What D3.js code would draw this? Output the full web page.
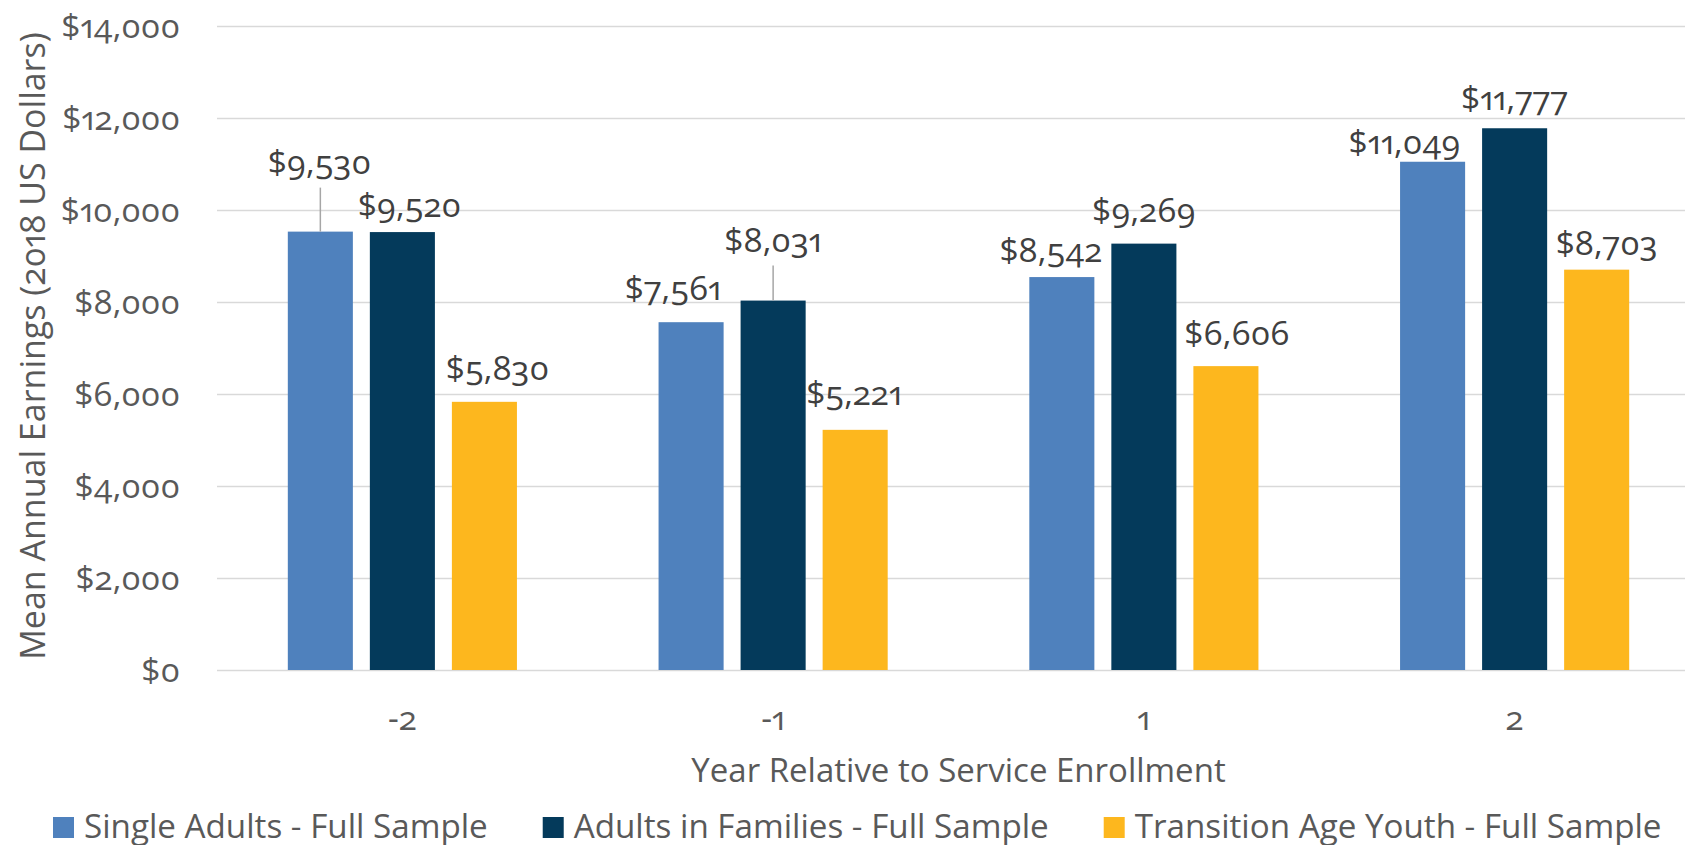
<!DOCTYPE html>
<html>
<head>
<meta charset="utf-8">
<script src="https://cdn.jsdelivr.net/npm/d3@7"></script>
<style>
  body { margin: 0; background: #fff; }
  svg text {
    font-family: "Open Sans", sans-serif;
    font-variant-numeric: oldstyle-nums proportional-nums;
  }
</style>
</head>
<body>
<svg id="chart" width="1685" height="845"></svg>
<script>
const years = ["-2", "-1", "1", "2"];
const seriesNames = [
  "Single Adults - Full Sample",
  "Adults in Families - Full Sample",
  "Transition Age Youth - Full Sample"
];
const singleAdults = [9530, 7561, 8542, 11049];
const adultsInFamilies = [9520, 8031, 9269, 11777];
const transitionYouth = [5830, 5221, 6606, 8703];
const yTicks = [0, 2000, 4000, 6000, 8000, 10000, 12000, 14000];

const colors = ["#4f81bd", "#043a5b", "#fdb71e"];
// hand-moved data labels, [dx, dy] from the top centre of each bar
const labelNudge = [
  [[-1, -58], [-18, -22], [-11, -15], [-28, -8]],
  [[7, -15], [0, -49], [0, -22], [0, -18]],
  [[13, -22], [-1, -25], [11, -21], [10, -15]]
];

const allSeries = [singleAdults, adultsInFamilies, transitionYouth];
const money = d => "$" + d3.format(",")(d);

const svg = d3.select("#chart");

const x0 = d3.scaleBand()
  .domain(years)
  .range([217, 1700])
  .paddingInner(0.382)
  .paddingOuter(0.191);

const x1 = d3.scaleBand()
  .domain(d3.range(seriesNames.length))
  .range([0, x0.bandwidth()])
  .paddingInner(0.207);

const y = d3.scaleLinear().domain([0, 14000]).range([670, 26]);

// gridlines + y labels
const yAxis = svg.append("g")
  .attr("transform", "translate(217,0)")
  .call(d3.axisLeft(y)
    .tickValues(yTicks)
    .tickSize(-1483)
    .tickPadding(37)
    .tickFormat(money));
yAxis.select(".domain").remove();
yAxis.selectAll("line").attr("stroke", "#d9d9d9").attr("stroke-width", 1.6);
yAxis.selectAll("text")
  .attr("dy", "0.33em")
  .attr("fill", "#595959")
  .style("font-size", "33.5px");

// x labels
const xAxis = svg.append("g")
  .attr("transform", "translate(0,670)")
  .call(d3.axisBottom(x0).tickSize(0));
xAxis.select(".domain").remove();
xAxis.selectAll("text")
  .attr("y", 60)
  .attr("dy", 0)
  .attr("fill", "#595959")
  .style("font-size", "33.5px");

// bars
const rows = [];
allSeries.forEach((vals, s) => {
  vals.forEach((v, i) => {
    rows.push({ s: s, year: years[i], value: v, nudge: labelNudge[s][i] });
  });
});

svg.append("g")
  .selectAll("rect")
  .data(rows)
  .enter()
  .append("rect")
  .attr("x", d => x0(d.year) + x1(d.s))
  .attr("y", d => y(d.value))
  .attr("width", x1.bandwidth())
  .attr("height", d => y(0) - y(d.value))
  .attr("fill", d => colors[d.s]);

// leader lines for labels pushed far from their bar
svg.append("g")
  .selectAll("line")
  .data(rows.filter(d => d.nudge[1] < -40))
  .enter()
  .append("line")
  .attr("x1", d => x0(d.year) + x1(d.s) + x1.bandwidth() / 2)
  .attr("x2", d => x0(d.year) + x1(d.s) + x1.bandwidth() / 2)
  .attr("y1", d => y(d.value) + d.nudge[1] + 14)
  .attr("y2", d => y(d.value))
  .attr("stroke", "#a6a6a6")
  .attr("stroke-width", 1.5);

// data labels
svg.append("g")
  .selectAll("text")
  .data(rows)
  .enter()
  .append("text")
  .attr("x", d => x0(d.year) + x1(d.s) + x1.bandwidth() / 2 + d.nudge[0])
  .attr("y", d => y(d.value) + d.nudge[1])
  .attr("text-anchor", "middle")
  .attr("fill", "#404040")
  .style("font-size", "33.5px")
  .text(d => money(d.value));

// axis titles
svg.append("text")
  .attr("transform", "translate(45,346) rotate(-90)")
  .attr("text-anchor", "middle")
  .attr("fill", "#595959")
  .style("font-size", "34px")
  .text("Mean Annual Earnings (2018 US Dollars)");

svg.append("text")
  .attr("x", 958.5)
  .attr("y", 782)
  .attr("text-anchor", "middle")
  .attr("fill", "#595959")
  .style("font-size", "33px")
  .text("Year Relative to Service Enrollment");

// legend
const legend = svg.append("g");
let lx = 53;
seriesNames.forEach((name, s) => {
  legend.append("rect")
    .attr("x", lx)
    .attr("y", 817)
    .attr("width", 21)
    .attr("height", 21)
    .attr("fill", colors[s]);
  const t = legend.append("text")
    .attr("x", lx + 31)
    .attr("y", 838)
    .attr("fill", "#595959")
    .style("font-size", "33.2px")
    .text(name);
  lx += 31 + t.node().getComputedTextLength() + 55;
});
</script>
</body>
</html>
